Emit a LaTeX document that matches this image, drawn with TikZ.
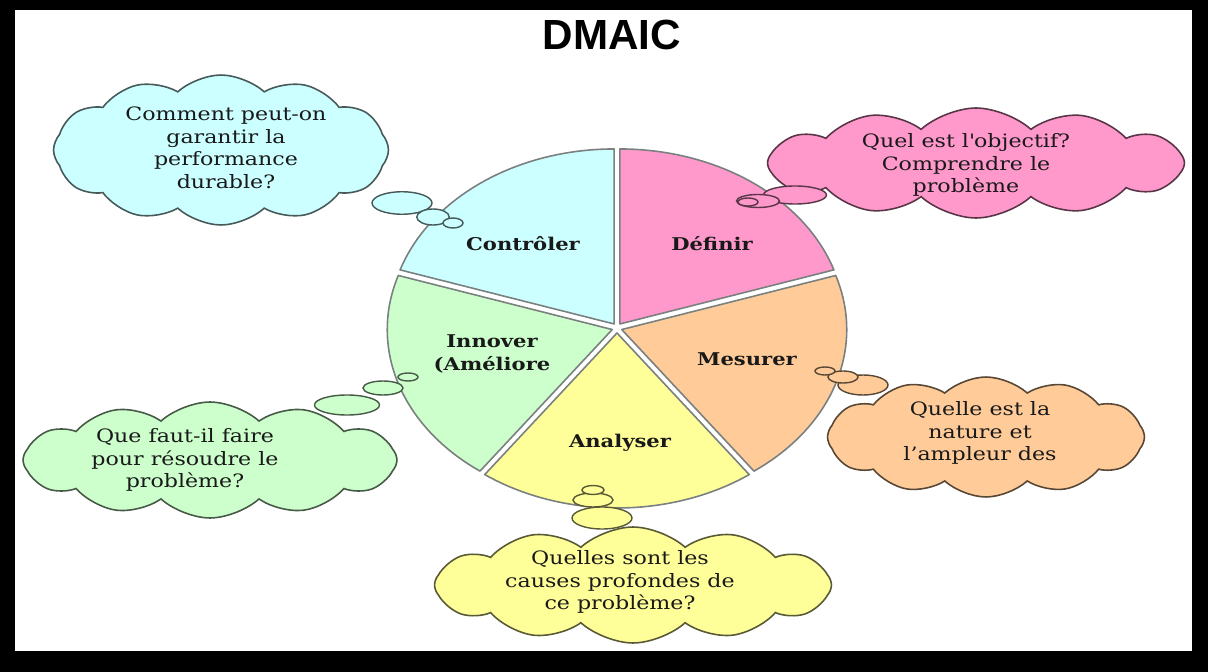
\documentclass[tikz,border=0pt]{standalone}
\usepackage{fontspec}
\setmainfont{DejaVu Serif}[FakeStretch=1.2]
\newfontfamily\titlefont{Liberation Sans}
\usepackage{xcolor}
\usepackage{tikz}
\usetikzlibrary{shapes.symbols,shapes.geometric}
\definecolor{ctrlcyan}{HTML}{CCFFFF}
\definecolor{defpink}{HTML}{FF99CC}
\definecolor{mespeach}{HTML}{FFCC99}
\definecolor{anayellow}{HTML}{FFFF99}
\definecolor{innogreen}{HTML}{CCFFCC}
\definecolor{pieedge}{HTML}{7A7F7F}

\begin{document}
\begin{tikzpicture}[x=0.02cm, y=-0.02cm,
  cloudbox/.style={cloud, cloud puffs=12, cloud puff arc=85, cloud ignores aspect,
    draw=#1!35!black, fill=#1, line width=0.9pt, inner sep=0pt},
  bubble/.style={ellipse, draw=#1!35!black, fill=#1, line width=0.8pt, inner sep=0pt},
  cloudtext/.style={align=center, font=\fontsize{10.5}{12.8}\selectfont, text=black!90},
  slicelabel/.style={align=center, font=\fontsize{10}{13.6}\selectfont\bfseries, text=black!90}]
% frame
\fill[black] (0,0) rectangle (1208,672);
\fill[white] (15,10) rectangle (1192,651);
\node[font=\titlefont\fontsize{24}{28}\selectfont\bfseries] (title) at (612,35) {DMAIC};
% exploded pie, five slices
\foreach \a/\b/\col in {18/90/defpink, 90/162/ctrlcyan, 162/234/innogreen, 234/306/anayellow, 306/378/mespeach}{
  \filldraw[fill=\col, draw=pieedge, line width=0.9pt, line join=round,
    shift={({5*cos((\a+\b)/2)},{-5*sin((\a+\b)/2)})}]
    (617,328) -- plot[domain=\a:\b, samples=40] ({617+225*cos(\x)},{328-175*sin(\x)}) -- cycle;
}
\node[slicelabel] (ctrl) at (523,244) {Contrôler};
\node[slicelabel] (def) at (712,244) {Définir};
\node[slicelabel] (inno) at (492,354) {Innover\\(Améliore};
\node[slicelabel] (mes) at (747,359) {Mesurer};
\node[slicelabel] (ana) at (620,443) {Analyser};
% thought clouds
\node[cloudbox=ctrlcyan, minimum width=6.7cm, minimum height=3.0cm] (cctrl) at (221,150) {};
\node[cloudtext] (tctrl) at (226,148) {Comment peut-on\\garantir la\\performance\\durable?};
\node[cloudbox=defpink, minimum width=8.34cm, minimum height=2.2cm] (cdef) at (976,163) {};
\node[cloudtext] (tdef) at (966,165) {Quel est l\textquotesingle objectif?\\Comprendre le\\problème};
\node[cloudbox=mespeach, minimum width=6.34cm, minimum height=2.4cm] (cmes) at (986,437) {};
\node[cloudtext] (tmes) at (980,433) {Quelle est la\\nature et\\l’ampleur des};
\node[cloudbox=innogreen, minimum width=7.48cm, minimum height=2.32cm] (cinno) at (210,460) {};
\node[cloudtext] (tinno) at (185,460) {Que faut-il faire\\pour résoudre le\\problème?};
\node[cloudbox=anayellow, minimum width=7.94cm, minimum height=2.32cm] (cana) at (633,585) {};
\node[cloudtext] (tana) at (620,582) {Quelles sont les\\causes profondes de\\ce problème?};
% bubbles
\node[bubble=ctrlcyan, minimum width=1.2cm, minimum height=0.45cm] (bc1) at (402,203) {};
\node[bubble=ctrlcyan, minimum width=0.65cm, minimum height=0.32cm] (bc2) at (433,217) {};
\node[bubble=ctrlcyan, minimum width=0.4cm, minimum height=0.2cm] (bc3) at (453,223) {};
\node[bubble=defpink, minimum width=1.26cm, minimum height=0.36cm] (bd1) at (795,195) {};
\node[bubble=defpink, minimum width=0.86cm, minimum height=0.26cm] (bd2) at (758,201) {};
\node[bubble=defpink, minimum width=0.4cm, minimum height=0.16cm] (bd3) at (748,202) {};
\node[bubble=mespeach, minimum width=1.0cm, minimum height=0.4cm] (bm1) at (863,385) {};
\node[bubble=mespeach, minimum width=0.6cm, minimum height=0.24cm] (bm2) at (843,377) {};
\node[bubble=mespeach, minimum width=0.4cm, minimum height=0.16cm] (bm3) at (825,371) {};
\node[bubble=innogreen, minimum width=1.3cm, minimum height=0.4cm] (bi1) at (347,405) {};
\node[bubble=innogreen, minimum width=0.8cm, minimum height=0.28cm] (bi2) at (383,388) {};
\node[bubble=innogreen, minimum width=0.4cm, minimum height=0.16cm] (bi3) at (408,377) {};
\node[bubble=anayellow, minimum width=1.2cm, minimum height=0.44cm] (ba1) at (602,518) {};
\node[bubble=anayellow, minimum width=0.8cm, minimum height=0.28cm] (ba2) at (593,500) {};
\node[bubble=anayellow, minimum width=0.44cm, minimum height=0.18cm] (ba3) at (593,490) {};
\end{tikzpicture}
\end{document}
